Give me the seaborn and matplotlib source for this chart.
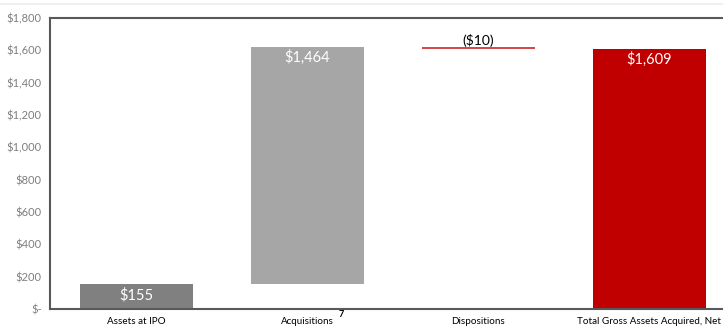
import matplotlib
matplotlib.use("Agg")
import matplotlib.pyplot as plt
import matplotlib.transforms as mtransforms
from matplotlib.lines import Line2D
import seaborn as sns
import pandas as pd

categories = ["Assets at IPO", "Acquisitions", "Dispositions", "Total Gross Assets Acquired, Net"]
changes = [155, 1464, -10, 1609]
is_total = [True, False, False, True]
value_labels = ["$155", "$1,464", "($10)", "$1,609"]
bar_colors = ["#808080", "#A6A6A6", "#D44A4A", "#C00000"]
label_colors = ["white", "white", "black", "white"]
y_ticks = [0, 200, 400, 600, 800, 1000, 1200, 1400, 1600, 1800]
y_tick_labels = ["$-", "$200", "$400", "$600", "$800", "$1,000", "$1,200", "$1,400", "$1,600", "$1,800"]

# waterfall geometry from changes
bottoms, heights = [], []
running = 0
for c, tot in zip(changes, is_total):
    if tot:
        bottoms.append(0)
        heights.append(c)
        running = c
    else:
        if c >= 0:
            bottoms.append(running)
            heights.append(c)
        else:
            bottoms.append(running + c)
            heights.append(-c)
        running += c

df = pd.DataFrame({"category": categories, "height": heights, "bottom": bottoms})

sns.set_theme(style="white")
plt.rcParams["font.family"] = ["Lato", "DejaVu Sans"]

fig = plt.figure(figsize=(7.23, 3.26), dpi=100)
ax = fig.add_axes([50 / 723, 1 - 309 / 326, 1 - 50 / 723, (309 - 18) / 326])

sns.barplot(data=df, x="category", y="height", bottom=df["bottom"].tolist(),
            width=0.66, saturation=1, errorbar=None, ax=ax, linewidth=0,
            color=bar_colors[0])
for p, col in zip(ax.patches, bar_colors):
    p.set_facecolor(col)
    p.set_edgecolor("none")

ax.set_xlim(-0.506, 3.43)
ax.set_ylim(0, 1800)
ax.set_yticks(y_ticks)
ax.set_yticklabels(y_tick_labels)
ax.set_xlabel("")
ax.set_ylabel("")
ax.tick_params(axis="y", length=0, pad=6, labelsize=8, labelcolor="#7F7F7F")
ax.tick_params(axis="x", length=0, pad=6, labelsize=7.1, labelcolor="black")

for side in ["left", "top", "bottom"]:
    ax.spines[side].set_visible(True)
    ax.spines[side].set_color("#595959")
    ax.spines[side].set_linewidth(1.5)
ax.spines["right"].set_visible(False)

# value labels
for i, (lab, b, h, col) in enumerate(zip(value_labels, bottoms, heights, label_colors)):
    top = b + h
    if col == "black":
        ax.text(i, top + 4, lab, ha="center", va="bottom", fontsize=10, color=col)
    elif h < 300:
        ax.text(i, b + h / 2 + 8, lab, ha="center", va="center", fontsize=10.5, color=col)
    else:
        ax.text(i, top - 15, lab, ha="center", va="top", fontsize=10.5, color=col)

# footnote superscript on Acquisitions
trans = mtransforms.blended_transform_factory(ax.transData, ax.transAxes)
ax.text(1.18, -0.003, "7", transform=trans, ha="left", va="top",
        fontsize=6.5, fontweight="bold", color="black")

# faint line near top of figure
fig.add_artist(Line2D([0, 1], [1 - 4 / 326, 1 - 4 / 326], color="#F0F0F0", linewidth=1.5))

fig.savefig("out.png", dpi=100)
